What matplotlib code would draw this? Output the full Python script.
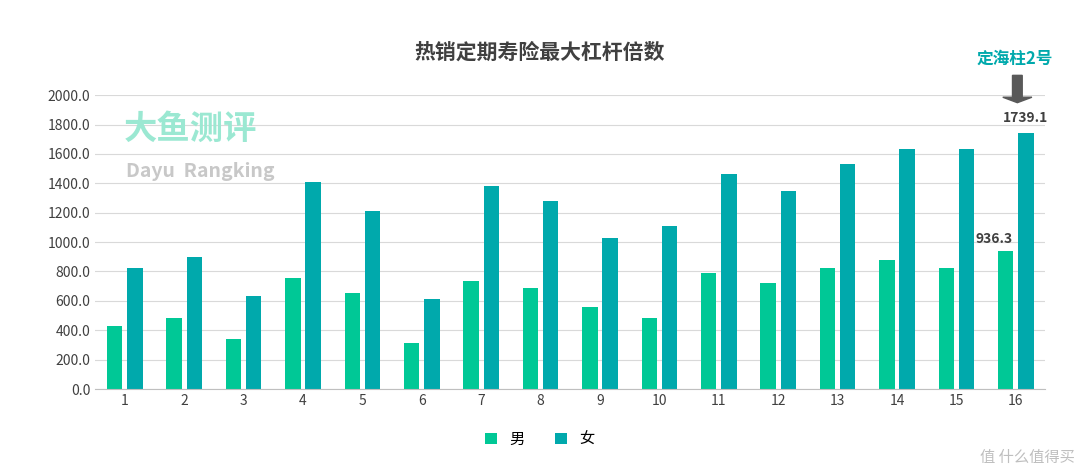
import numpy as np
import matplotlib.pyplot as plt

plt.rcParams['font.family'] = ['Noto Sans CJK SC', 'DejaVu Sans']

products = [str(i) for i in range(1, 17)]
male = [429, 483, 340, 755, 653, 313, 735, 687, 558, 483, 789, 721, 823, 878, 823, 936.3]
female = [823, 898, 633, 1408, 1211, 612, 1381, 1279, 1027, 1109, 1463, 1347, 1531, 1633, 1633, 1739.1]

GREEN = '#00C896'
TEAL = '#00A9AC'

fig = plt.figure(figsize=(10.8, 4.71), dpi=100)
ax = fig.add_axes([0.088, 0.174, 0.88, 0.624])

x = np.arange(len(products))
w = 0.26
ax.bar(x - 0.17, male, w, color=GREEN, label='男')
ax.bar(x + 0.17, female, w, color=TEAL, label='女')

ax.set_xlim(-0.5, len(products) - 0.5)
ax.set_ylim(0, 2000)
ax.set_yticks(np.arange(0, 2001, 200))
ax.set_yticklabels([f'{v:.1f}' for v in np.arange(0, 2001, 200)], fontsize=10, color='#404040')
ax.set_xticks(x)
ax.set_xticklabels(products, fontsize=10, color='#404040')
ax.tick_params(length=0)
ax.grid(axis='y', color='#d9d9d9', linewidth=0.8)
ax.set_axisbelow(True)
for s in ['top', 'right', 'left']:
    ax.spines[s].set_visible(False)
ax.spines['bottom'].set_color('#bfbfbf')

ax.annotate(f'{male[-1]:.1f}', (x[-1] - 0.17, male[-1]), xytext=(-8, 6), textcoords='offset points',
            ha='center', fontsize=10, fontweight='bold', color='#404040')
ax.annotate(f'{female[-1]:.1f}', (x[-1] + 0.17, female[-1]), xytext=(0, 8), textcoords='offset points',
            ha='center', fontsize=10, fontweight='bold', color='#404040')

fig.text(0.5, 0.875, '热销定期寿险最大杠杆倍数', ha='center', fontsize=15, fontweight='bold', color='#404040')
fig.text(0.94, 0.865, '定海柱2号', ha='center', fontsize=12, fontweight='bold', color=TEAL)
fig.patches.append(plt.Arrow(0.942, 0.84, 0, -0.058, width=0.045, color='#595959', transform=fig.transFigure))

fig.text(0.115, 0.705, '大鱼测评', fontsize=24, fontweight='bold', color='#9be8d2')
fig.text(0.117, 0.625, 'Dayu  Rangking', fontsize=14, fontweight='bold', color='#c8c8c8')
fig.text(0.995, 0.02, '值 什么值得买', ha='right', fontsize=11, color='#bfbfbf')

fig.legend(loc='lower center', bbox_to_anchor=(0.5, 0.02), ncol=2, frameon=False,
           fontsize=11, handlelength=0.8, handleheight=0.8)

fig.savefig('out.png')
